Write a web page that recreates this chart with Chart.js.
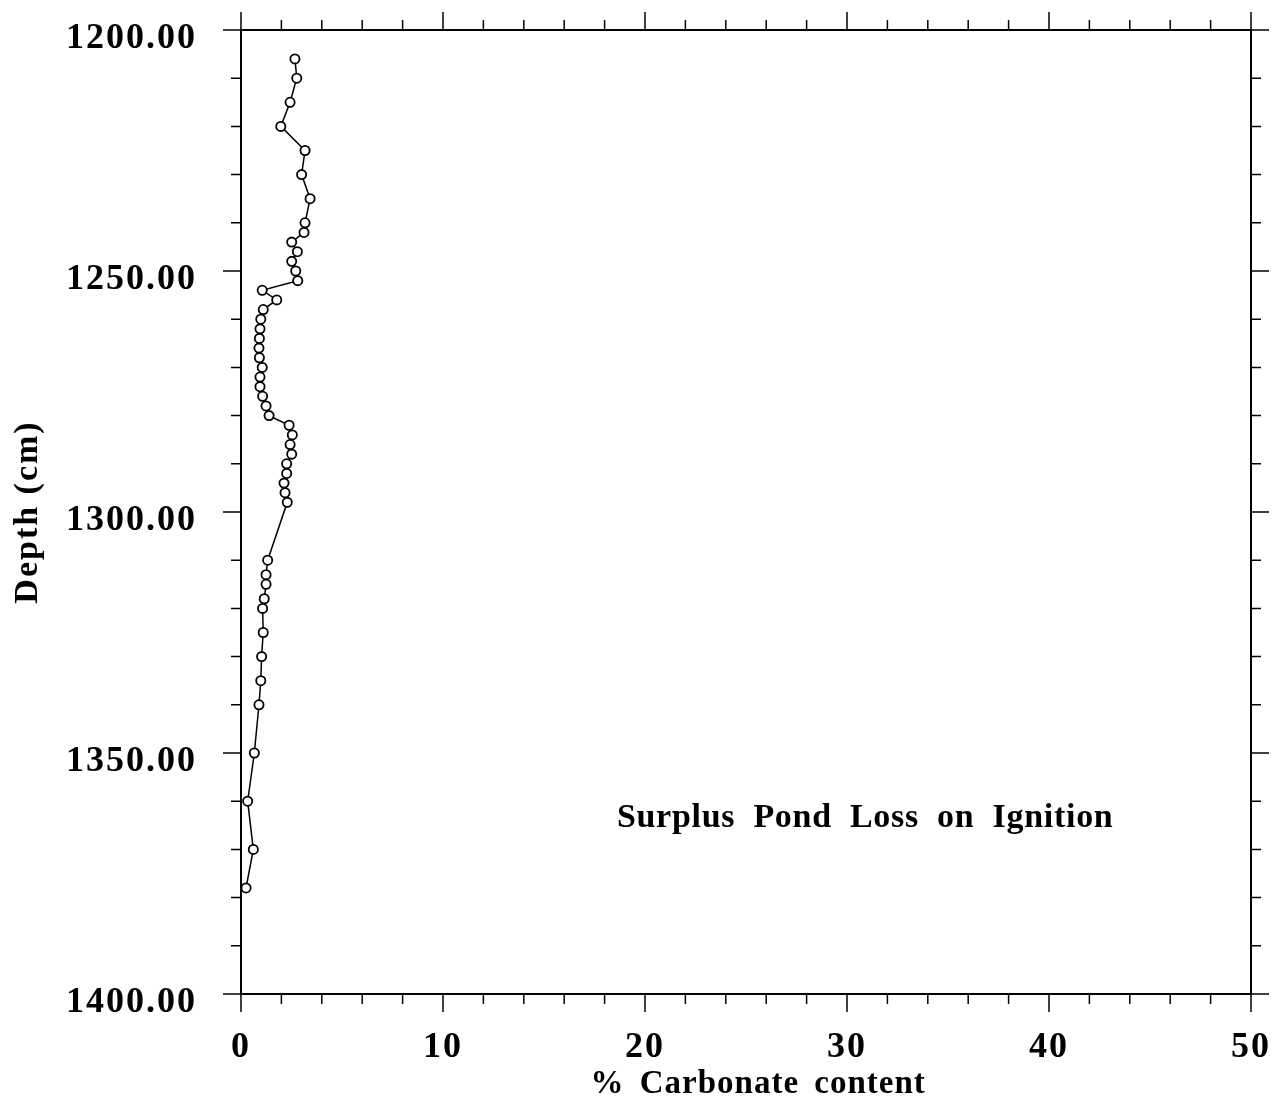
<!DOCTYPE html>
<html>
<head>
<meta charset="utf-8">
<title>Surplus Pond Loss on Ignition</title>
<script src="https://cdn.jsdelivr.net/npm/chart.js@4.4.1/dist/chart.umd.min.js"></script>
<style>
    html, body { margin: 0; padding: 0; background: #fff; }
    #lossChart { display: block; }
</style>
</head>
<body>
<canvas id="lossChart" width="1284" height="1107"></canvas>
<script>
// Depth of each sample (cm) and its carbonate content (%)
const depth = [
    1206, 1210, 1215, 1220, 1225, 1230, 1235, 1240,
    1242, 1244, 1246, 1248, 1250, 1252, 1254, 1256, 1258, 1260,
    1262, 1264, 1266, 1268, 1270, 1272, 1274, 1276, 1278, 1280,
    1282, 1284, 1286, 1288, 1290, 1292, 1294, 1296, 1298,
    1310, 1313, 1315, 1318, 1320, 1325, 1330, 1335, 1340,
    1350, 1360, 1370, 1378
];
const carbonate = [
    2.67, 2.76, 2.43, 1.97, 3.17, 3.00, 3.42, 3.17,
    3.12, 2.51, 2.79, 2.51, 2.71, 2.81, 1.05, 1.77, 1.10, 0.98,
    0.94, 0.91, 0.89, 0.91, 1.05, 0.94, 0.94, 1.07, 1.24, 1.39,
    2.38, 2.54, 2.43, 2.51, 2.26, 2.26, 2.13, 2.18, 2.29,
    1.32, 1.24, 1.24, 1.15, 1.07, 1.10, 1.02, 0.98, 0.89,
    0.66, 0.33, 0.61, 0.25
];
const xTickLabels = ['0', '10', '20', '30', '40', '50'];
const yTickLabels = ['1200.00', '1250.00', '1300.00', '1350.00', '1400.00'];

const chartTitle = 'Surplus Pond Loss on Ignition';
const xTitle = '% Carbonate content';
const yTitle = 'Depth (cm)';

const SERIF = "'Liberation Serif', 'Times New Roman', serif";

/**
 * Draws the boxed frame with outward major/minor ticks on all four sides,
 * the x axis title and the in-plot caption.
 */
const framePlugin = {
    id: 'frame',
    beforeDraw(chart) {
        chart.ctx.letterSpacing = '2px';
    },
    afterDraw(chart) {
        const { ctx, chartArea: a, scales } = chart;
        const xs = scales.x;
        const ys = scales.y;
        const MAJOR = 18, MINOR = 10;

        ctx.save();
        ctx.strokeStyle = '#000';
        ctx.lineWidth = 2;
        ctx.lineCap = 'butt';

        // Frame
        ctx.beginPath();
        ctx.rect(a.left, a.top, a.right - a.left, a.bottom - a.top);
        ctx.stroke();

        ctx.lineWidth = 1.5;
        ctx.beginPath();
        // Horizontal axis ticks every 2 %, major every 10 %
        for (let v = 0; v <= 50; v += 2) {
            const px = xs.getPixelForValue(v);
            const len = v % 10 === 0 ? MAJOR : MINOR;
            ctx.moveTo(px, a.top); ctx.lineTo(px, a.top - len);
            ctx.moveTo(px, a.bottom); ctx.lineTo(px, a.bottom + len);
        }
        // Vertical axis ticks every 10 cm, major every 50 cm
        for (let v = 1200; v <= 1400; v += 10) {
            const py = ys.getPixelForValue(v);
            const len = v % 50 === 0 ? MAJOR : MINOR;
            ctx.moveTo(a.left, py); ctx.lineTo(a.left - len, py);
            ctx.moveTo(a.right, py); ctx.lineTo(a.right + len, py);
        }
        ctx.stroke();

        ctx.fillStyle = '#000';
        ctx.textAlign = 'center';
        ctx.textBaseline = 'middle';

        // X axis title (sits a little right of the plot centre)
        ctx.font = 'bold 33px ' + SERIF;
        ctx.letterSpacing = '1px';
        ctx.wordSpacing = '6px';
        ctx.fillText(xTitle, xs.getPixelForValue(25.6), a.bottom + 90);

        // Caption inside the plot
        ctx.font = 'bold 34px ' + SERIF;
        ctx.letterSpacing = '0.7px';
        ctx.wordSpacing = '9px';
        ctx.fillText(chartTitle, xs.getPixelForValue(30.9), ys.getPixelForValue(1363.5));
        ctx.restore();
    }
};

const points = depth.map((d, i) => ({ x: carbonate[i], y: d }));

// Fix the scale box sizes so the plot frame lands where the reference has it
function fixBox(size, prop) {
    return (scale) => {
        scale[prop] = size;
        scale.paddingTop = 0;
        scale.paddingBottom = 0;
        scale.paddingLeft = 0;
        scale.paddingRight = 0;
    };
}

new Chart(document.getElementById('lossChart'), {
    type: 'scatter',
    data: {
        datasets: [{
            label: 'Loss on ignition',
            data: points,
            showLine: true,
            borderColor: '#000',
            borderWidth: 1.5,
            pointRadius: 4.6,
            pointBorderWidth: 1.8,
            pointBorderColor: '#000',
            pointBackgroundColor: '#fff',
            tension: 0
        }]
    },
    options: {
        responsive: false,
        animation: false,
        devicePixelRatio: 1,
        layout: { padding: 0 },
        plugins: {
            legend: { display: false },
            tooltip: { enabled: false }
        },
        scales: {
            x: {
                type: 'linear',
                position: 'bottom',
                min: 0,
                max: 50,
                grid: { display: false },
                border: { display: false },
                ticks: {
                    stepSize: 10,
                    padding: 24,
                    maxRotation: 0,
                    color: '#000',
                    font: { family: SERIF, size: 36, weight: 'bold' },
                    callback: (v) => xTickLabels[v / 10]
                },
                afterFit: fixBox(113, 'height')
            },
            xTop: {
                type: 'linear',
                position: 'top',
                min: 0,
                max: 50,
                grid: { display: false },
                border: { display: false },
                ticks: { display: false },
                afterFit: fixBox(30, 'height')
            },
            y: {
                type: 'linear',
                position: 'left',
                reverse: true,
                min: 1200,
                max: 1400,
                grid: { display: false },
                border: { display: false },
                ticks: {
                    stepSize: 50,
                    padding: 36,
                    labelOffset: 9,
                    color: '#000',
                    font: { family: SERIF, size: 36, weight: 'bold' },
                    callback: (v) => yTickLabels[(v - 1200) / 50]
                },
                title: {
                    display: true,
                    text: yTitle,
                    color: '#000',
                    font: { family: SERIF, size: 34, weight: 'bold' },
                    padding: { top: 8, bottom: 0 }
                },
                afterFit: fixBox(241, 'width')
            },
            yRight: {
                type: 'linear',
                position: 'right',
                reverse: true,
                min: 1200,
                max: 1400,
                grid: { display: false },
                border: { display: false },
                ticks: { display: false },
                afterFit: fixBox(33, 'width')
            }
        }
    },
    plugins: [framePlugin]
});
</script>
</body>
</html>
